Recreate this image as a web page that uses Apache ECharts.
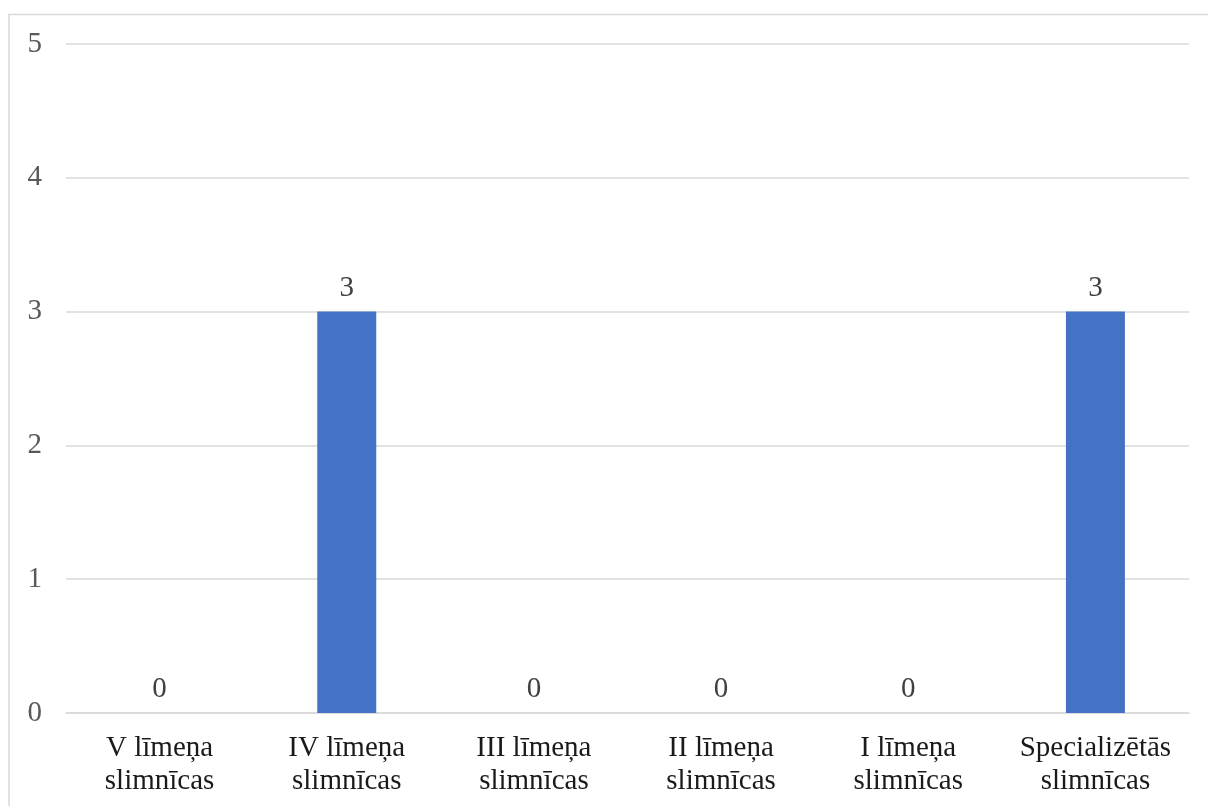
<!DOCTYPE html>
<html>
<head>
<meta charset="utf-8">
<script src="https://cdn.jsdelivr.net/npm/echarts@6/dist/echarts.min.js"></script>
<style>
  html, body { margin: 0; padding: 0; background: #ffffff; }
  #chart { width: 1208px; height: 806px; }
</style>
</head>
<body>
<div id="chart"></div>
<script>
// Hospital categories and counts
const categories = [
  'V līmeņa\nslimnīcas',
  'IV līmeņa\nslimnīcas',
  'III līmeņa\nslimnīcas',
  'II līmeņa\nslimnīcas',
  'I līmeņa\nslimnīcas',
  'Specializētās\nslimnīcas'
];
const counts = [0, 3, 0, 0, 0, 3];
const yMin = 0;
const yMax = 5;
const yStep = 1;

const serif = '"Liberation Serif", "Times New Roman", serif';

const chart = echarts.init(document.getElementById('chart'), null, { renderer: 'canvas' });
chart.setOption({
  animation: false,
  backgroundColor: '#ffffff',
  graphic: [{
    type: 'rect',
    silent: true,
    z: -10,
    shape: { x: 9, y: 14.5, width: 1400, height: 1000 },
    style: { fill: 'none', stroke: '#d9d9d9', lineWidth: 1.5 }
  }],
  grid: { left: 66, right: 19, top: 44, bottom: 93, containLabel: false },
  xAxis: {
    type: 'category',
    data: categories,
    axisLine: { show: true, lineStyle: { color: '#d9d9d9', width: 1.5 } },
    axisTick: { show: false },
    axisLabel: {
      color: '#1a1a1a',
      fontFamily: serif,
      fontSize: 29,
      lineHeight: 33,
      margin: 19,
      interval: 0
    }
  },
  yAxis: {
    type: 'value',
    min: yMin,
    max: yMax,
    interval: yStep,
    axisLine: { show: false },
    axisTick: { show: false },
    splitLine: { lineStyle: { color: '#d9d9d9', width: 1.5 } },
    axisLabel: {
      color: '#595959',
      fontFamily: serif,
      fontSize: 29,
      margin: 24
    }
  },
  series: [{
    type: 'bar',
    data: counts,
    barWidth: 59,
    itemStyle: { color: '#4472c4' },
    label: {
      show: true,
      position: 'top',
      distance: 9,
      color: '#404040',
      fontFamily: serif,
      fontSize: 29
    }
  }]
});
</script>
</body>
</html>
